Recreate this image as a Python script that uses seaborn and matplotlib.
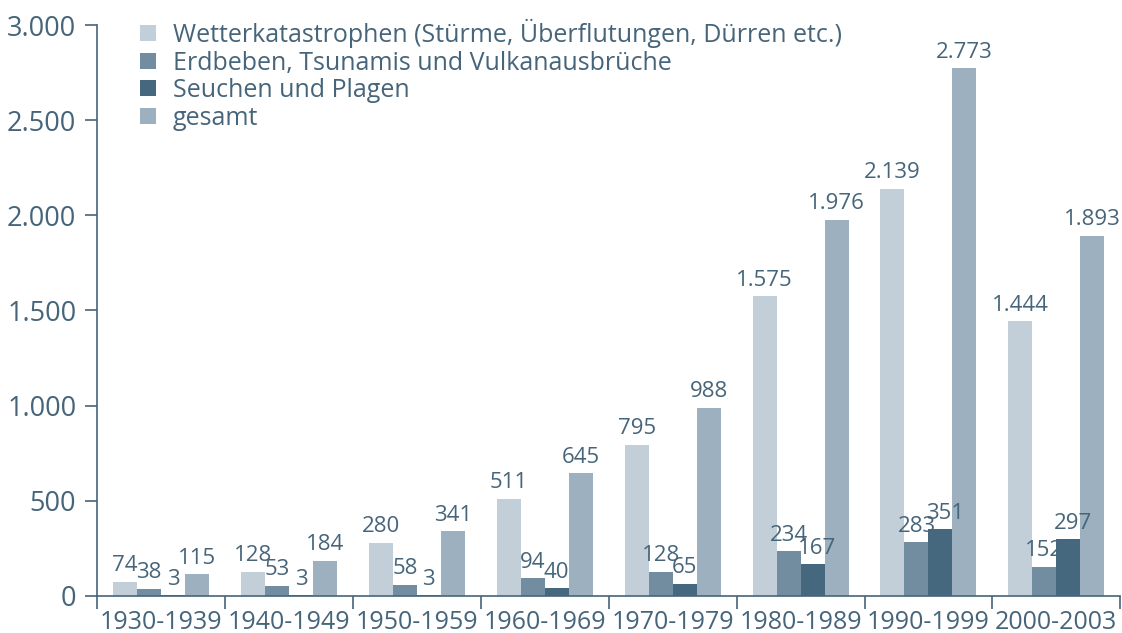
import pandas as pd
import seaborn as sns
import matplotlib.pyplot as plt
from matplotlib.patches import Patch
from matplotlib.ticker import FuncFormatter, FixedLocator

# Data
decades = ["1930-1939", "1940-1949", "1950-1959", "1960-1969",
           "1970-1979", "1980-1989", "1990-1999", "2000-2003"]
series = ["Wetterkatastrophen (Stürme, Überflutungen, Dürren etc.)",
          "Erdbeben, Tsunamis und Vulkanausbrüche",
          "Seuchen und Plagen",
          "gesamt"]
wetter = [74, 128, 280, 511, 795, 1575, 2139, 1444]
erdbeben = [38, 53, 58, 94, 128, 234, 283, 152]
seuchen = [3, 3, 3, 40, 65, 167, 351, 297]
gesamt = [115, 184, 341, 645, 988, 1976, 2773, 1893]

colors = ["#c3cfd8", "#738da0", "#46687e", "#9cb0bf"]
text_color = "#46657a"

rows = []
for name, vals in zip(series, [wetter, erdbeben, seuchen, gesamt]):
    for d, v in zip(decades, vals):
        rows.append({"Dekade": d, "Art": name, "Anzahl": v})
df = pd.DataFrame(rows)

sns.set_style("white")
plt.rcParams["font.family"] = ["Open Sans", "DejaVu Sans"]

fig = plt.figure(figsize=(11.22, 6.33), dpi=100)
ax = fig.add_axes([0.0865, 0.0585, 0.912, 0.902])

sns.barplot(data=df, x="Dekade", y="Anzahl", hue="Art", hue_order=series,
            palette=colors, width=0.75, linewidth=0, saturation=1,
            legend=False, ax=ax)

# value labels with German thousands separator
de = lambda v: f"{int(v):,}".replace(",", ".")
for i, cont in enumerate(ax.containers):
    anns = ax.bar_label(cont, labels=[de(b.get_height()) for b in cont],
                        padding=4, fontsize=16, color=text_color)
    # push the 3-digit "Seuchen" labels a bit right so they don't hit their neighbour
    if i == 2:
        for a, b in zip(anns, cont):
            if b.get_height() >= 100:
                a.xyann = (3, a.xyann[1])

ax.set_xlim(-0.5, 7.5)
ax.set_ylim(0, 3000)
ax.set_yticks(range(0, 3001, 500))
ax.yaxis.set_major_formatter(FuncFormatter(lambda v, p: de(v)))
ax.set_xlabel("")
ax.set_ylabel("")

# ticks at category boundaries
ax.xaxis.set_minor_locator(FixedLocator([i - 0.5 for i in range(9)]))
ax.tick_params(axis="x", which="major", length=0, labelsize=18,
               labelcolor=text_color, pad=10)
ax.tick_params(axis="x", which="minor", length=9, width=1.2, color=text_color,
               direction="out", bottom=True)
ax.tick_params(axis="y", length=9, width=1.2, color=text_color,
               labelsize=19.5, labelcolor=text_color, pad=6, left=True)

for s in ["top", "right"]:
    ax.spines[s].set_visible(False)
for s in ["left", "bottom"]:
    ax.spines[s].set_color(text_color)
    ax.spines[s].set_linewidth(1.2)

handles = [Patch(facecolor=c, edgecolor="none") for c in colors]
leg = ax.legend(handles, series, loc="upper left", bbox_to_anchor=(0.02, 1.05),
                frameon=False, fontsize=18, handlelength=0.62, handleheight=0.62,
                handletextpad=0.7, labelspacing=0.1, labelcolor=text_color)

fig.savefig("out.png", dpi=100)
